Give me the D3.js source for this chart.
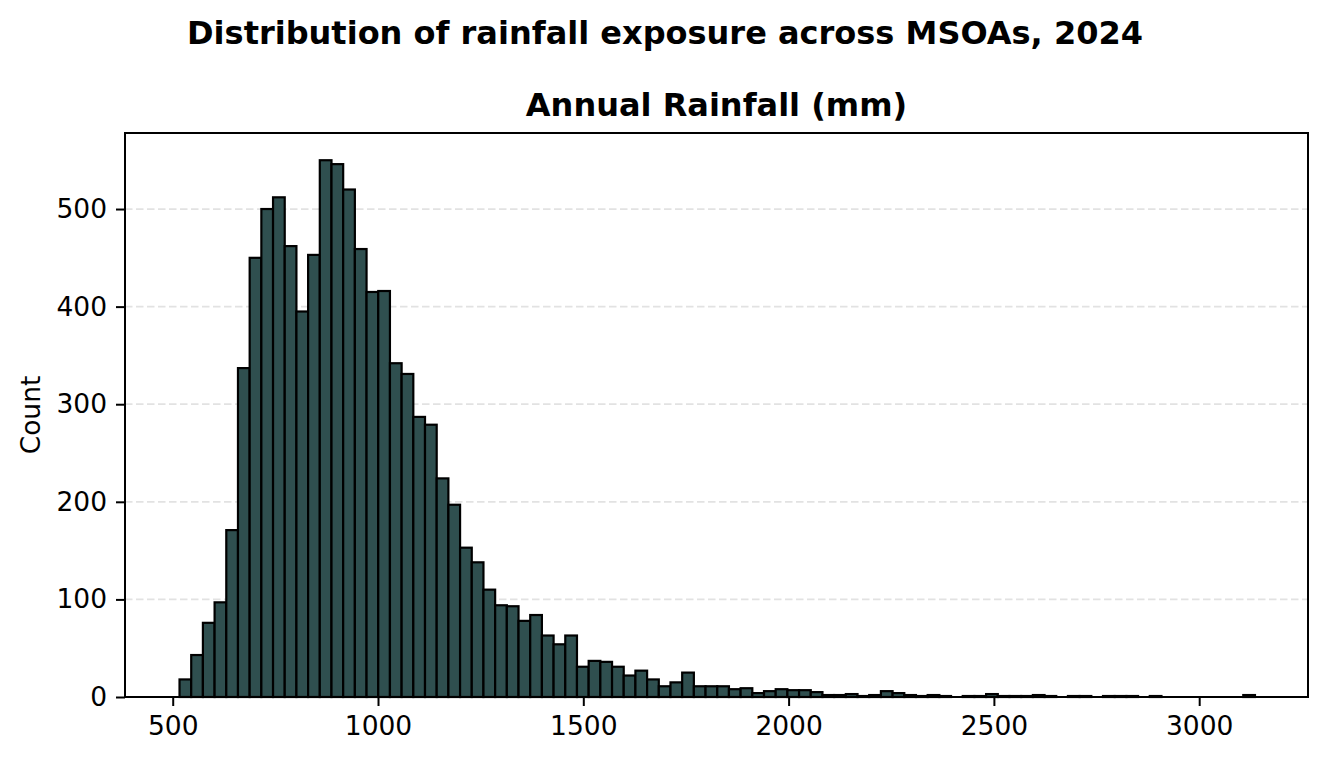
<!DOCTYPE html>
<html>
<head>
<meta charset="utf-8">
<script src="https://cdn.jsdelivr.net/npm/d3@7"></script>
<style>
    body { margin: 0; background: #fff; }
    svg text { font-family: "DejaVu Sans", sans-serif; fill: #000; }
</style>
</head>
<body>
<svg id="chart"></svg>
<script>
// data: histogram of annual rainfall (mm) per MSOA
const binStart = 516.6
const binWidth = 28.47
const counts = [
    18, 43, 76, 97, 171, 337, 450, 500, 512, 462,
    395, 453, 550, 546, 520, 459, 415, 416, 342, 331,
    287, 279, 224, 197, 153, 138, 110, 94, 93, 78,
    84, 63, 54, 63, 31, 37, 36, 31, 22, 27,
    18, 11, 15, 25, 11, 11, 11, 8, 9, 4,
    6, 8, 7, 7, 5, 2, 2, 3, 1, 2,
    6, 4, 2, 1, 2, 1, 0, 1, 1, 3,
    1, 1, 1, 2, 1, 0, 1, 1, 0, 1,
    1, 1, 0, 1, 0, 0, 0, 0, 0, 0,
    0, 2
]
const xTicks = [500, 1000, 1500, 2000, 2500, 3000]
const yTicks = [0, 100, 200, 300, 400, 500]

const title = "Distribution of rainfall exposure across MSOAs, 2024"
const subtitle = "Annual Rainfall (mm)"

// constants
const width = 1327
const height = 762
const margin = {
    left: 125,
    right: 19,
    top: 133,
    bottom: 65,
}
const visWidth = width - margin.left - margin.right
const visHeight = height - margin.top - margin.bottom

var bins = counts.map(function(c, i) {
    return { x0: binStart + i * binWidth, x1: binStart + (i + 1) * binWidth, count: c }
})

d3.select('svg#chart').attr('width', width).attr('height', height)
var root = d3.select('svg#chart')
var svg = root.append('g')
    .attr('transform', 'translate(' + margin.left + ', ' + margin.top + ')')

var x = d3.scaleLinear()
    .domain([383.8, 3265])
    .range([0, visWidth])

var y = d3.scaleLinear()
    .domain([0, 577.9])
    .range([visHeight, 0])

// grid (behind bars)
svg.append('g')
    .selectAll('line')
    .data(yTicks.filter(d => d > 0))
    .enter().append('line')
    .attr('x1', 0)
    .attr('x2', visWidth)
    .attr('y1', d => y(d))
    .attr('y2', d => y(d))
    .attr('stroke', '#e2e2e2')
    .attr('stroke-width', 1.8)
    .attr('stroke-dasharray', '7.5,3.5')

// bars
svg.append('g')
    .selectAll('rect')
    .data(bins.filter(d => d.count > 0))
    .enter().append('rect')
    .attr('x', d => x(d.x0))
    .attr('y', d => y(d.count))
    .attr('width', d => x(d.x1) - x(d.x0))
    .attr('height', d => y(0) - y(d.count))
    .attr('fill', '#2f4f4f')
    .attr('stroke', '#000')
    .attr('stroke-width', 2.2)

// axes
var xAxis = svg.append('g')
    .attr('transform', 'translate(0,' + visHeight + ')')
    .call(d3.axisBottom(x).tickValues(xTicks).tickFormat(d3.format('d')).tickSize(9).tickPadding(10).tickSizeOuter(0))

var yAxis = svg.append('g')
    .call(d3.axisLeft(y).tickValues(yTicks).tickFormat(d3.format('d')).tickSize(9).tickPadding(9).tickSizeOuter(0))

root.selectAll('.domain').remove()
root.selectAll('.tick line').attr('stroke', '#000').attr('stroke-width', 2)
root.selectAll('.tick text')
    .style('font-size', '26.5px')
    .style('font-family', '"DejaVu Sans", sans-serif')
    .attr('fill', '#000')

// frame
svg.append('rect')
    .attr('x', 0)
    .attr('y', 0)
    .attr('width', visWidth)
    .attr('height', visHeight)
    .attr('fill', 'none')
    .attr('stroke', '#000')
    .attr('stroke-width', 2)

// labels
root.append('text')
    .attr('text-anchor', 'middle')
    .attr('transform', 'translate(40,' + (margin.top + visHeight / 2) + ') rotate(-90)')
    .style('font-size', '26.5px')
    .text('Count')

root.append('text')
    .attr('text-anchor', 'middle')
    .attr('x', margin.left + visWidth / 2)
    .attr('y', 116)
    .style('font-size', '32px')
    .style('font-weight', 'bold')
    .text(subtitle)

root.append('text')
    .attr('text-anchor', 'middle')
    .attr('x', 665)
    .attr('y', 43.5)
    .style('font-size', '32px')
    .style('font-weight', 'bold')
    .text(title)
</script>
</body>
</html>
